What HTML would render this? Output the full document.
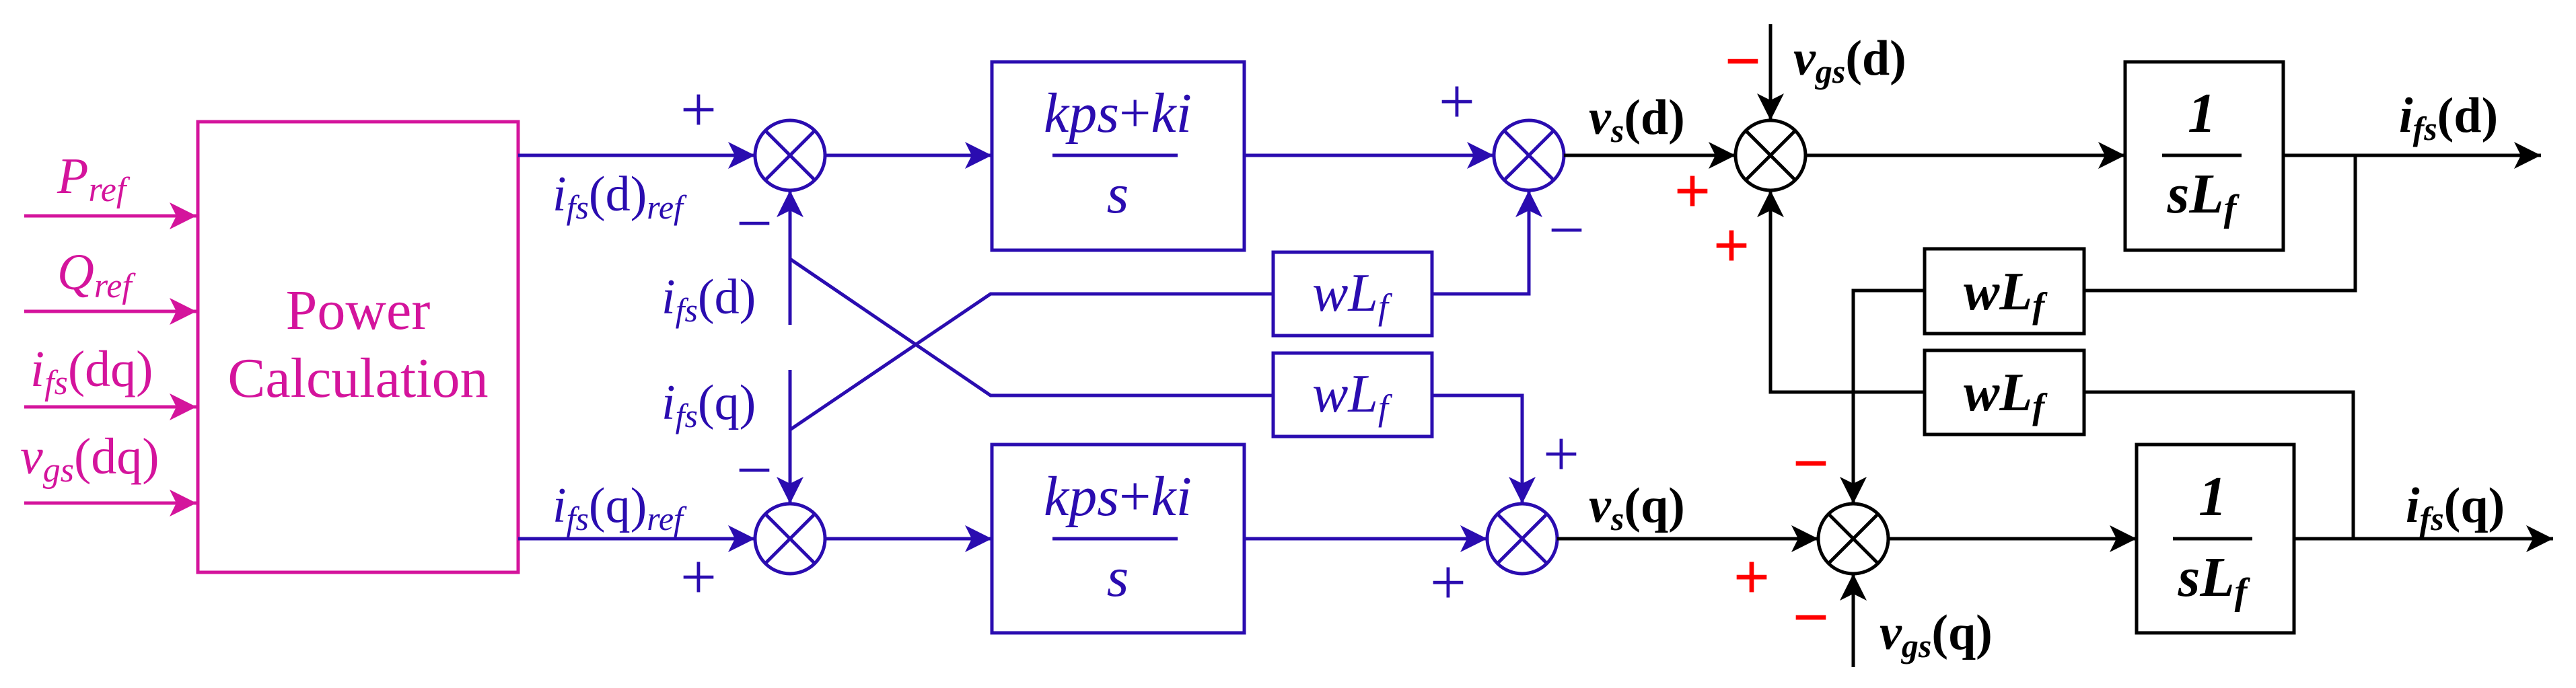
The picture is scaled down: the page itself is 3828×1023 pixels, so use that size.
<!DOCTYPE html>
<html><head><meta charset="utf-8"><style>
html,body{margin:0;padding:0;background:#fff;}
svg{display:block;}
svg text{font-family:"Liberation Serif","Times New Roman","DejaVu Serif","Noto Serif CJK SC",serif !important;}
</style></head><body>
<svg width="3828" height="1023" viewBox="0 0 3828 1023" xmlns="http://www.w3.org/2000/svg">
<defs>
<marker id="am" markerUnits="userSpaceOnUse" markerWidth="42" markerHeight="42" refX="40" refY="20" orient="auto"><path d="M0,0 L40,20 L0,40 L10,20 z" fill="#d4149c"/></marker>
<marker id="ab" markerUnits="userSpaceOnUse" markerWidth="42" markerHeight="42" refX="40" refY="20" orient="auto"><path d="M0,0 L40,20 L0,40 L10,20 z" fill="#2a0cb0"/></marker>
<marker id="ak" markerUnits="userSpaceOnUse" markerWidth="42" markerHeight="42" refX="40" refY="20" orient="auto"><path d="M0,0 L40,20 L0,40 L10,20 z" fill="#000"/></marker>
</defs>

<g stroke="#d4149c" stroke-width="5" fill="none">
<rect x="294" y="181" width="476" height="670"/>
<path d="M36,321 H292" marker-end="url(#am)"/>
<path d="M36,463 H292" marker-end="url(#am)"/>
<path d="M36,605 H292" marker-end="url(#am)"/>
<path d="M36,748 H292" marker-end="url(#am)"/>
</g>
<g fill="#d4149c" font-size="76" font-style="italic">
<text x="85" y="287">P<tspan font-size="52" dy="12">ref</tspan></text>
<text x="85" y="430">Q<tspan font-size="52" dy="12">ref</tspan></text>
<text x="45" y="574">i<tspan font-size="52" dy="12">fs</tspan><tspan font-style="normal" dy="-12">(dq)</tspan></text>
<text x="30" y="704">v<tspan font-size="52" dy="12">gs</tspan><tspan font-style="normal" dy="-12">(dq)</tspan></text>
</g>
<g fill="#d4149c" font-size="84" text-anchor="middle">
<text x="532" y="489">Power</text>
<text x="532" y="590">Calculation</text>
</g>

<g stroke="#2a0cb0" stroke-width="5" fill="none">
<circle cx="1174" cy="231" r="52"/><path d="M1137,194 L1211,268 M1211,194 L1137,268"/>
<circle cx="1174" cy="801" r="52"/><path d="M1137,764 L1211,838 M1211,764 L1137,838"/>
<circle cx="2272" cy="231" r="52"/><path d="M2235,194 L2309,268 M2309,194 L2235,268"/>
<circle cx="2262" cy="801" r="52"/><path d="M2225,764 L2299,838 M2299,764 L2225,838"/>
<rect x="1474" y="92" width="375" height="280"/>
<rect x="1474" y="661" width="375" height="280"/>
<rect x="1892" y="375" width="236" height="124"/>
<rect x="1892" y="525" width="236" height="124"/>
<path d="M1564,231 H1750 M1564,801 H1750"/>
<path d="M770,231 H1122" marker-end="url(#ab)"/>
<path d="M770,801 H1122" marker-end="url(#ab)"/>
<path d="M1226,231 H1474" marker-end="url(#ab)"/>
<path d="M1226,801 H1474" marker-end="url(#ab)"/>
<path d="M1849,231 H2220" marker-end="url(#ab)"/>
<path d="M1849,801 H2210" marker-end="url(#ab)"/>
<path d="M1174,483 V283" marker-end="url(#ab)"/>
<path d="M1174,550 V749" marker-end="url(#ab)"/>
<path d="M1174,385 L1472,588 H1892"/>
<path d="M1174,639 L1472,437 H1892"/>
<path d="M2128,437 H2272 V283" marker-end="url(#ab)"/>
<path d="M2128,588 H2262 V749" marker-end="url(#ab)"/>
</g>
<g fill="#2a0cb0" font-size="74" font-style="italic">
<text x="821" y="313">i<tspan font-size="50" dy="12">fs</tspan><tspan font-style="normal" dy="-12">(d)</tspan><tspan font-size="50" dy="12">ref</tspan></text>
<text x="821" y="776">i<tspan font-size="50" dy="12">fs</tspan><tspan font-style="normal" dy="-12">(q)</tspan><tspan font-size="50" dy="12">ref</tspan></text>
<text x="983" y="466">i<tspan font-size="50" dy="12">fs</tspan><tspan font-style="normal" dy="-12">(d)</tspan></text>
<text x="983" y="623">i<tspan font-size="50" dy="12">fs</tspan><tspan font-style="normal" dy="-12">(q)</tspan></text>
<text x="1661" y="196" font-size="84" text-anchor="middle">kps<tspan font-style="normal">+</tspan>ki</text>
<text x="1661" y="316" font-size="84" text-anchor="middle">s</text>
<text x="1661" y="766" font-size="84" text-anchor="middle">kps<tspan font-style="normal">+</tspan>ki</text>
<text x="1661" y="886" font-size="84" text-anchor="middle">s</text>
<text x="1950" y="462" font-size="80">wL<tspan font-size="54" dy="12">f</tspan></text>
<text x="1950" y="612" font-size="80">wL<tspan font-size="54" dy="12">f</tspan></text>
</g>
<g fill="#2a0cb0" font-size="96" text-anchor="middle">
<text x="1038" y="195">+</text>
<text x="1121" y="364">−</text>
<text x="1121" y="731">−</text>
<text x="1038" y="890">+</text>
<text x="2165" y="183">+</text>
<text x="2328" y="374">−</text>
<text x="2320" y="707">+</text>
<text x="2152" y="898">+</text>
</g>

<g stroke="#000" stroke-width="5" fill="none">
<circle cx="2631" cy="231" r="52"/><path d="M2594,194 L2668,268 M2668,194 L2594,268"/>
<circle cx="2754" cy="801" r="52"/><path d="M2717,764 L2791,838 M2791,764 L2717,838"/>
<rect x="3158" y="92" width="235" height="280"/>
<rect x="3175" y="661" width="234" height="280"/>
<rect x="2860" y="370" width="237" height="126"/>
<rect x="2860" y="521" width="237" height="125"/>
<path d="M3213,231 H3331 M3229,801 H3347"/>
<path d="M2324,231 H2579" marker-end="url(#ak)"/>
<path d="M2631,36 V179" marker-end="url(#ak)"/>
<path d="M2683,231 H3158" marker-end="url(#ak)"/>
<path d="M3393,231 H3776" marker-end="url(#ak)"/>
<path d="M3500,231 V432 H3097"/>
<path d="M2860,432 H2754 V749" marker-end="url(#ak)"/>
<path d="M2860,583 H2631 V283" marker-end="url(#ak)"/>
<path d="M3097,583 H3497 V801"/>
<path d="M2314,801 H2702" marker-end="url(#ak)"/>
<path d="M2806,801 H3175" marker-end="url(#ak)"/>
<path d="M3409,801 H3794" marker-end="url(#ak)"/>
<path d="M2754,992 V853" marker-end="url(#ak)"/>
</g>
<g fill="#000" font-size="74" font-weight="bold">
<text x="2361" y="199" font-style="italic">v<tspan font-size="50" dy="12">s</tspan><tspan font-style="normal" dy="-12">(d)</tspan></text>
<text x="2361" y="776" font-style="italic">v<tspan font-size="50" dy="12">s</tspan><tspan font-style="normal" dy="-12">(q)</tspan></text>
<text x="2665" y="111" font-style="italic">v<tspan font-size="50" dy="12">gs</tspan><tspan font-style="normal" dy="-12">(d)</tspan></text>
<text x="2793" y="965" font-style="italic">v<tspan font-size="50" dy="12">gs</tspan><tspan font-style="normal" dy="-12">(q)</tspan></text>
<text x="3565" y="196" font-style="italic">i<tspan font-size="50" dy="12">fs</tspan><tspan font-style="normal" dy="-12">(d)</tspan></text>
<text x="3575" y="776" font-style="italic">i<tspan font-size="50" dy="12">fs</tspan><tspan font-style="normal" dy="-12">(q)</tspan></text>
<text x="3272" y="196" font-size="84" font-style="italic" text-anchor="middle">1</text>
<text x="3272" y="316" font-size="84" font-style="italic" text-anchor="middle">sL<tspan font-size="56" dy="12">f</tspan></text>
<text x="3288" y="766" font-size="84" font-style="italic" text-anchor="middle">1</text>
<text x="3288" y="886" font-size="84" font-style="italic" text-anchor="middle">sL<tspan font-size="56" dy="12">f</tspan></text>
<text x="2918" y="460" font-size="80" font-style="italic">wL<tspan font-size="54" dy="12">f</tspan></text>
<text x="2918" y="610" font-size="80" font-style="italic">wL<tspan font-size="54" dy="12">f</tspan></text>
</g>
<g fill="#ff0000" font-size="96" font-weight="bold" text-anchor="middle">
<text x="2590" y="123">−</text>
<text x="2515" y="316">+</text>
<text x="2573" y="397">+</text>
<text x="2691" y="721">−</text>
<text x="2603" y="890">+</text>
<text x="2691" y="950">−</text>
</g>
</svg>
</body></html>
